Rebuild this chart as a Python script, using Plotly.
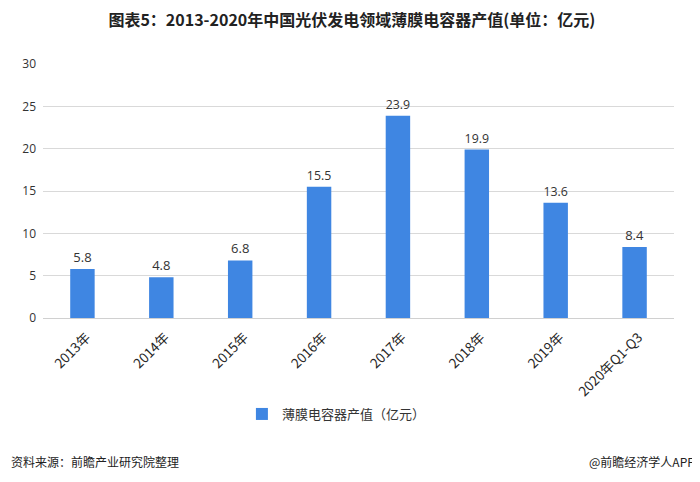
import plotly.graph_objects as go

categories = ["2013年", "2014年", "2015年", "2016年", "2017年", "2018年", "2019年", "2020年Q1-Q3"]
values = [5.8, 4.8, 6.8, 15.5, 23.9, 19.9, 13.6, 8.4]
value_labels = ["5.8", "4.8", "6.8", "15.5", "23.9", "19.9", "13.6", "8.4"]
y_ticks = [0, 5, 10, 15, 20, 25, 30]

font_family = "Noto Sans CJK SC, Noto Sans, sans-serif"

# page body has an 8px default margin, so the figure is sized to fit the window
W, H = 692, 474
L, R, T, B = 35, 26, 56, 164
PW, PH = W - L - R, H - T - B

fig = go.Figure()
fig.add_trace(go.Bar(
    x=categories,
    y=values,
    name="薄膜电容器产值（亿元）",
    marker=dict(color="#3f86e2", line=dict(width=0)),
    text=value_labels,
    textposition="outside",
    textfont=dict(size=13, color="#333333", family="Open Sans, sans-serif"),
    cliponaxis=False,
))

fig.update_layout(
    width=W, height=H,
    margin=dict(l=L, r=R, t=T, b=B),
    paper_bgcolor="white", plot_bgcolor="white",
    bargap=0.69,
    showlegend=True,
    legend=dict(orientation="h", x=0.465, xanchor="center", y=-81 / PH, yanchor="top",
                itemwidth=30,
                font=dict(size=13, color="#333333", family=font_family)),
    title=dict(text="<b>图表5：2013-2020年中国光伏发电领域薄膜电容器产值(单位：亿元)</b>",
               x=0.497, xanchor="center", y=1 - 12 / H, yanchor="middle", automargin=False,
               font=dict(size=16, color="#222222", family=font_family)),
    font=dict(family=font_family),
)

fig.update_xaxes(
    tickangle=-45, automargin=False,
    tickfont=dict(size=13.5, color="#262626", family=font_family),
    showline=False, showgrid=False, ticks="",
    ticklabelstandoff=8, ticklabelshift=4,
)
fig.update_yaxes(
    range=[0, 30], tickvals=y_ticks, automargin=False,
    tickfont=dict(size=12, color="#333333", family="Open Sans, sans-serif"),
    showgrid=True, gridcolor="#d9d9d9", gridwidth=1,
    zeroline=True, zerolinecolor="#d0d0d0", zerolinewidth=1,
    showline=False, ticks="", ticklabelstandoff=6,
)

foot_y = -(454 - (T + PH)) / PH
fig.add_annotation(text="资料来源：前瞻产业研究院整理", xref="paper", yref="paper",
                   x=-(L - 1) / PW, xanchor="left", y=foot_y, yanchor="middle",
                   showarrow=False, font=dict(size=12, color="#222222", family=font_family))
fig.add_annotation(text="@前瞻经济学人APP", xref="paper", yref="paper",
                   x=(689 - L) / PW, xanchor="right", y=foot_y, yanchor="middle",
                   showarrow=False, font=dict(size=12, color="#222222", family=font_family))

fig.write_html("out.html")
